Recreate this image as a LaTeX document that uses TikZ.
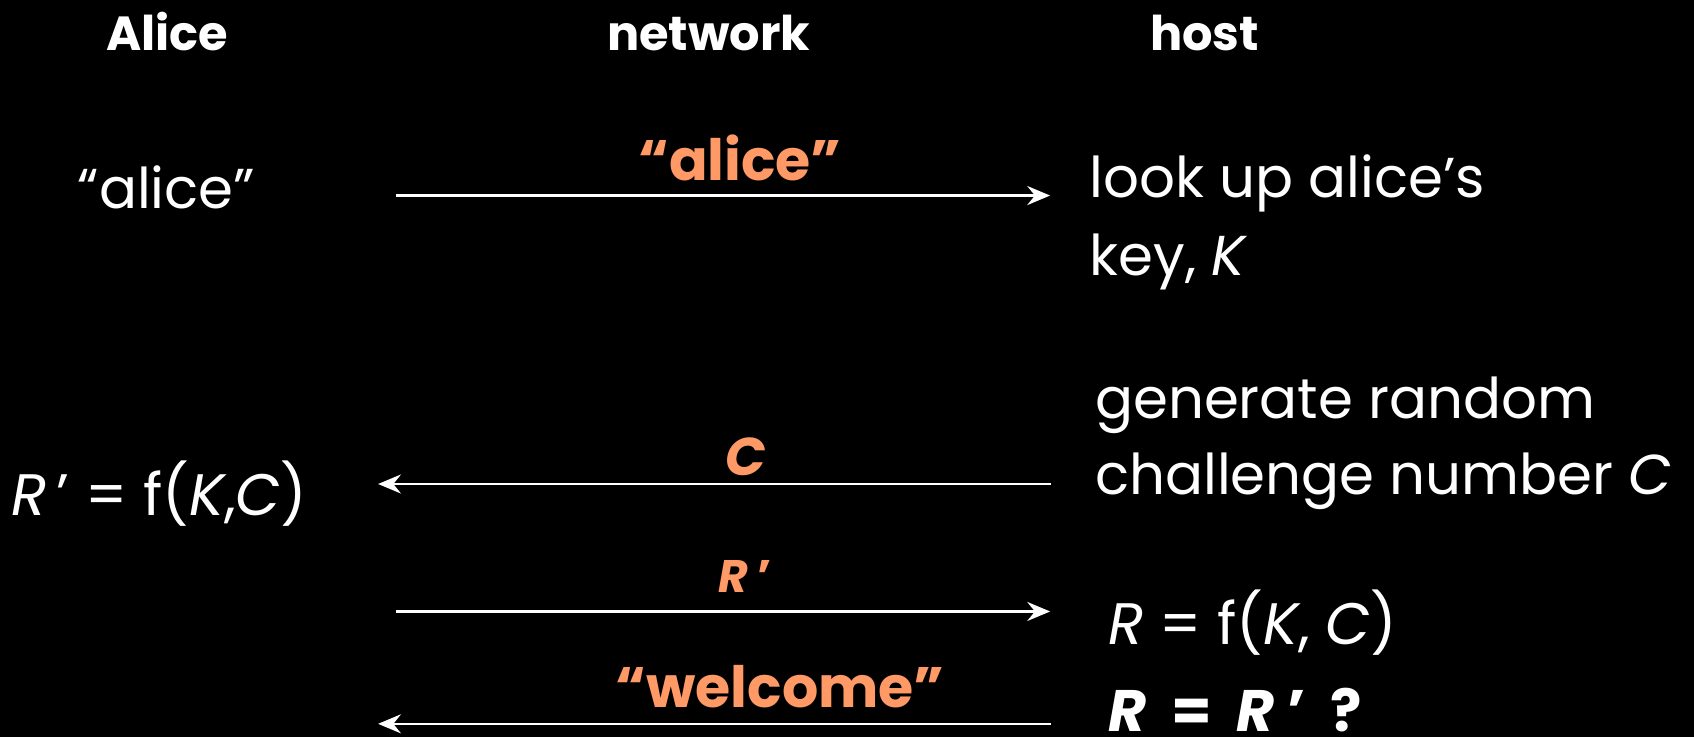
\documentclass[tikz,border=0pt]{standalone}
\usepackage{fontspec}
\setmainfont{Poppins}
\usetikzlibrary{arrows.meta}
\definecolor{org}{HTML}{FF9966}
\begin{document}
\begin{tikzpicture}[x=0.01cm,y=-0.01cm,
  hdr/.style={anchor=base,text=white,font=\fontsize{12.6}{14}\selectfont\bfseries,inner sep=0},
  body/.style={anchor=base west,text=white,font=\fontsize{14.8}{18}\selectfont,inner sep=0,align=left},
  lbl/.style={anchor=base,text=org,font=\fontsize{14}{16}\selectfont\bfseries,inner sep=0},
  msg/.style={draw=white,line width=0.6pt,-{Stealth[length=6pt,width=5pt,inset=2pt]}}]
\fill[black] (0,0) rectangle (1568,682);
\useasboundingbox (0,0) rectangle (1568,682);
% headers
\node[hdr] (hA) at (155,47) {Alice};
\node[hdr] (hN) at (656,47) {network};
\node[hdr] (hH) at (1115,47) {host};
% row 1
\node[body,anchor=base] (a1) at (154,193) {“alice”};
\coordinate (s1) at (367,181);
\coordinate (e1) at (972,181);
\draw[msg] (s1) -- (e1);
\node[lbl,font=\fontsize{15}{17}\selectfont\bfseries] (l1) at (685,167) {“alice”};
\node[body] (h1) at (1008,183) {look up alice’s};
\node[body] (h1b) at (1008,255) {key, \textit{K}};
% row 2
\node[body] (h2) at (1013,387) {generate random};
\node[body] (h2b) at (1013,458) {challenge number \textit{C}};
\coordinate (s2) at (973,448);
\coordinate (e2) at (350,448);
\draw[msg] (s2) -- (e2);
\node[lbl] (l2) at (690,440) {\textit{C}};
\node[body,font=\fontsize{15.4}{18}\selectfont] (a2) at (10,477) {\textit{R}\,' = f(\textit{K},\textit{C})};
% row 3
\coordinate (s3) at (367,566);
\coordinate (e3) at (972,566);
\draw[msg] (s3) -- (e3);
\node[lbl,font=\fontsize{12}{14}\selectfont\bfseries] (l3) at (690,548) {\textit{R} '};
\node[body,font=\fontsize{15.4}{18}\selectfont] (h3) at (1025,597) {\textit{R} = f(\textit{K}, \textit{C})};
% row 4
\coordinate (s4) at (973,670);
\coordinate (e4) at (350,670);
\draw[msg] (s4) -- (e4);
\node[lbl,font=\fontsize{15}{18}\selectfont\bfseries] (l4) at (722,655) {“welcome”};
\node[body,font=\fontsize{15.4}{18}\selectfont\bfseries] (h4) at (1025,677) {\textit{R}\ \ =\ \ \textit{R}\ '\ \ ?};
\end{tikzpicture}
\end{document}
